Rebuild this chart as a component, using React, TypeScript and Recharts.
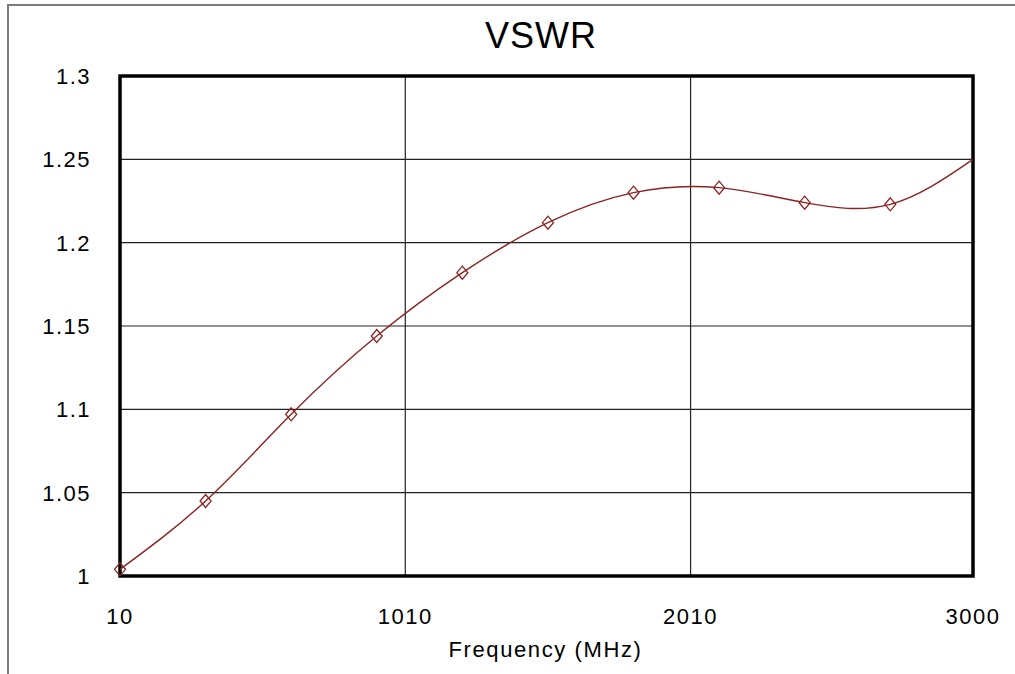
import React from "react";
import { LineChart, Line, XAxis, YAxis, CartesianGrid, ReferenceArea } from "recharts";

// measured points (diamond markers)
const frequencies = [10, 310, 610, 910, 1210, 1510, 1810, 2110, 2410, 2710];
const vswrMeasured = [1.004, 1.045, 1.097, 1.144, 1.182, 1.212, 1.23, 1.233, 1.224, 1.223];
// the fitted curve carries on to the end of the band
const fitEndFrequency = 3000;
const fitEndVswr = 1.25;

const xTicks = [10, 1010, 2010, 3000];
const yTicks = [1, 1.05, 1.1, 1.15, 1.2, 1.25, 1.3];

const FONT = "'Liberation Sans', Arial, sans-serif";
const RED = "#8b2323";

const chartData = [
  ...frequencies.map((f, i) => ({ freq: f, fit: vswrMeasured[i], point: vswrMeasured[i] })),
  { freq: fitEndFrequency, fit: fitEndVswr, point: null },
];

const XTick = (props: any) => {
  const { x, y, payload } = props;
  return (
    <text x={x} y={y + 48} textAnchor="middle" fontFamily={FONT} fontSize={22} letterSpacing={1.5} fill="#000">
      {payload.value}
    </text>
  );
};

const YTick = (props: any) => {
  const { x, y, payload } = props;
  return (
    <text x={x - 29} y={y + 8} textAnchor="end" fontFamily={FONT} fontSize={22} letterSpacing={1.5} fill="#000">
      {String(payload.value)}
    </text>
  );
};

const Diamond = (props: any) => {
  const { cx, cy, value, index } = props;
  if (value == null || cx == null || cy == null) return <g key={`d-${index}`} />;
  return (
    <path
      key={`d-${index}`}
      d={`M${cx},${cy - 6.5} L${cx + 5.5},${cy} L${cx},${cy + 6.5} L${cx - 5.5},${cy} Z`}
      fill="none"
      stroke={RED}
      strokeWidth={1.3}
    />
  );
};

export default function App() {
  return (
    <div style={{ position: "absolute", left: 0, top: 0, width: 1015, height: 674, background: "#fff", overflow: "hidden" }}>
      {/* outer frame of the original figure */}
      <div
        style={{
          position: "absolute",
          left: 7,
          top: 4,
          width: 1100,
          height: 800,
          borderTop: "2px solid #7a7a7a",
          borderLeft: "2px solid #7a7a7a",
        }}
      />
      <div
        style={{
          position: "absolute",
          left: 441,
          top: 15,
          width: 200,
          textAlign: "center",
          fontFamily: FONT,
          fontSize: 36,
          letterSpacing: 1,
          color: "#000",
        }}
      >
        VSWR
      </div>
      <div style={{ position: "absolute", left: 0, top: 0 }}>
        <LineChart width={1015} height={674} data={chartData} margin={{ top: 76, right: 42, bottom: 0, left: 0 }}>
          <CartesianGrid stroke="#222" strokeWidth={1.2} />
          <XAxis
            dataKey="freq"
            type="number"
            domain={[10, 3000]}
            ticks={xTicks}
            height={98}
            axisLine={false}
            tickLine={false}
            tickSize={0}
            tickMargin={0}
            tick={<XTick />}
            interval={0}
            label={{
              content: (p: any) => {
                const vb = p.viewBox;
                return (
                  <text
                    x={vb.x + vb.width / 2 - 1}
                    y={657}
                    textAnchor="middle"
                    fontFamily={FONT}
                    fontSize={22}
                    letterSpacing={1.6}
                    fill="#000"
                  >
                    Frequency (MHz)
                  </text>
                );
              },
            }}
          />
          <YAxis
            type="number"
            domain={[1, 1.3]}
            ticks={yTicks}
            width={120}
            axisLine={false}
            tickLine={false}
            tickSize={0}
            tickMargin={0}
            tick={<YTick />}
            interval={0}
          />
          <ReferenceArea x1={10} x2={3000} y1={1} y2={1.3} fill="none" stroke="#000" strokeWidth={3.5} />
          <Line
            dataKey="fit"
            type="natural"
            stroke={RED}
            strokeWidth={1.4}
            dot={false}
            activeDot={false}
            isAnimationActive={false}
          />
          <Line
            dataKey="point"
            stroke="none"
            dot={<Diamond />}
            activeDot={false}
            isAnimationActive={false}
          />
        </LineChart>
      </div>
    </div>
  );
}
